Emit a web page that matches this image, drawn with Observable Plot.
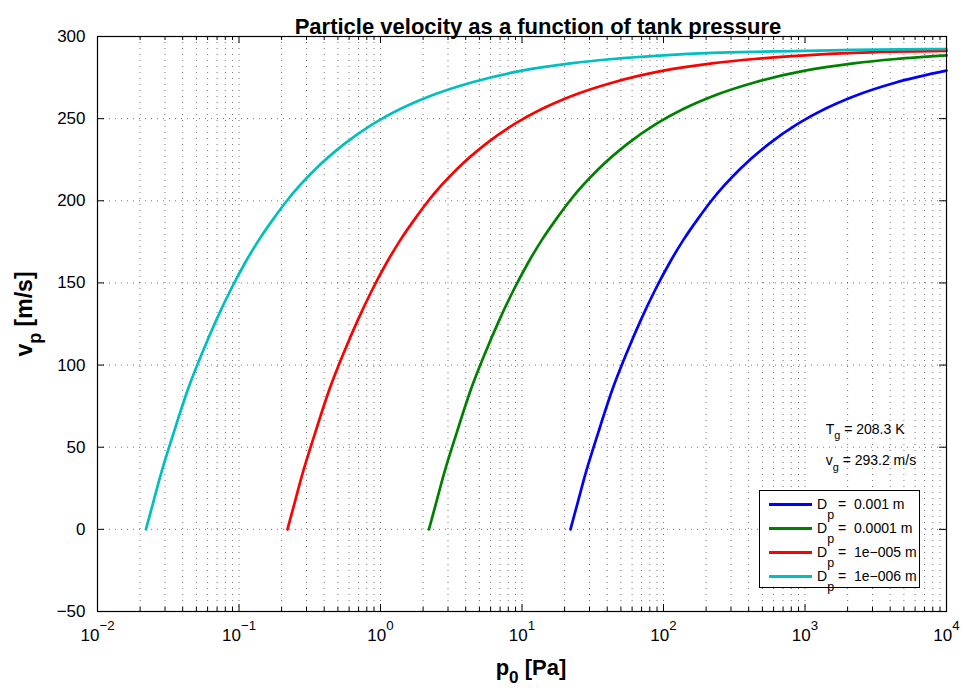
<!DOCTYPE html>
<html>
<head>
<meta charset="utf-8">
<script src="https://cdn.jsdelivr.net/npm/d3@7"></script>
<script src="https://cdn.jsdelivr.net/npm/@observablehq/plot@0.6"></script>
<style>
  html, body { margin: 0; padding: 0; background: #fff; }
  #wrap { position: relative; width: 966px; height: 695px; font-family: "Liberation Sans", Arial, Helvetica, sans-serif; }
  #legend { position: absolute; left: 759px; top: 490px; width: 161px; height: 98px; box-sizing: border-box;
            border: 1.3px solid #000; background: #fff; padding-top: 1px; }
  .row { display: flex; align-items: center; height: 24px; }
  .sw { width: 43px; height: 3px; margin-left: 9px; margin-right: 5px; }
  .lt { font-size: 14px; white-space: pre; color: #000; }
  .lt .sub { font-size: 12.5px; position: relative; top: 10px; }
</style>
</head>
<body>
<div id="wrap">
  <div id="chart"></div>
  <div id="legend"></div>
</div>
<script>
// ---- data ----
const title = "Particle velocity as a function of tank pressure";
const xLabel = "p_{0} [Pa]";
const yLabel = "v_{p} [m/s]";
const seriesNames = ["0.001", "0.0001", "1e\u2212005", "1e\u2212006"];
const seriesColors = ["#0000ff", "#008000", "#ff0000", "#00bfbf"];

// particle velocity (m/s) at successive points along each curve
const vSamples = [0, 16, 32, 60, 86, 108, 128, 146, 162, 176.5, 189, 200.5, 219.5, 234.5, 246.5, 256, 263.5, 272, 279.2, 283.6, 286.3, 288.5, 290, 291.2, 291.8, 292.4];

// tank pressure (Pa) at those points, one list per particle diameter
const pBlue  = [22, 24.7, 27.7, 34.9, 43.9, 55.3, 69.6, 87.6, 110, 139, 175, 220, 349, 553, 876, 1390, 2200, 4390, 10000];
const pGreen = [2.2, 2.47, 2.77, 3.49, 4.39, 5.53, 6.96, 8.76, 11.0, 13.9, 17.5, 22, 34.9, 55.3, 87.6, 139, 220, 439, 1000, 2200, 4390, 10000];
const pRed   = [0.22, 0.247, 0.277, 0.349, 0.439, 0.553, 0.696, 0.876, 1.10, 1.39, 1.75, 2.2, 3.49, 5.53, 8.76, 13.9, 22, 43.9, 100, 220, 439, 1000, 2200, 10000];
const pCyan  = [0.022, 0.0247, 0.0277, 0.0349, 0.0439, 0.0553, 0.0696, 0.0876, 0.110, 0.139, 0.175, 0.22, 0.349, 0.553, 0.876, 1.39, 2.2, 4.39, 10, 22, 43.9, 100, 220, 1000, 2200, 10000];

const xMajorTicks = [1e-2, 1e-1, 1, 10, 100, 1000, 10000];
const xMinorTicks = [
  0.02,0.03,0.04,0.05,0.06,0.07,0.08,0.09,
  0.2,0.3,0.4,0.5,0.6,0.7,0.8,0.9,
  2,3,4,5,6,7,8,9,
  20,30,40,50,60,70,80,90,
  200,300,400,500,600,700,800,900,
  2000,3000,4000,5000,6000,7000,8000,9000
];
const yTicks = [-50, 0, 50, 100, 150, 200, 250, 300];

const annotations = [
  {p: 1400, v: 61, text: "T_{g} = 208.3 K"},
  {p: 1400, v: 41.6, text: "v_{g} = 293.2 m/s"}
];

// ---- build table ----
const pSets = [pBlue, pGreen, pRed, pCyan];
const rows = [];
pSets.forEach((ps, s) => ps.forEach((p, i) => rows.push({series: seriesNames[s], p, v: vSamples[i]})));

const W = 966, H = 695, mt = 36, mb = 84, ml = 97, mr = 20;
const innerW = W - ml - mr, innerH = H - mt - mb;
const tickStroke = {stroke: "#000", strokeWidth: 1};
const gridStyle = {stroke: "#000", strokeOpacity: 0.55, strokeDasharray: "1,5", strokeWidth: 1};

const chart = Plot.plot({
  width: W, height: H,
  marginTop: mt, marginBottom: mb, marginLeft: ml, marginRight: mr,
  style: {fontFamily: "'Liberation Sans', Arial, Helvetica, sans-serif", fontSize: "17px", color: "#000", background: "#fff", overflow: "visible"},
  x: {type: "log", domain: [1e-2, 1e4], axis: null, label: null},
  y: {domain: [-50, 300], axis: null, label: null},
  color: {domain: seriesNames, range: seriesColors},
  marks: [
    Plot.gridX(xMajorTicks.concat(xMinorTicks), gridStyle),
    Plot.gridY(yTicks, gridStyle),
    Plot.line(rows, {x: "p", y: "v", z: "series", stroke: "series", strokeWidth: 2.7, curve: "monotone-x"}),
    // inward ticks (MATLAB style)
    Plot.ruleX(xMajorTicks, {x: d => d, insetTop: innerH - 7, ...tickStroke}),
    Plot.ruleX(xMajorTicks, {x: d => d, insetBottom: innerH - 7, ...tickStroke}),
    Plot.ruleX(xMinorTicks, {x: d => d, insetTop: innerH - 4, ...tickStroke}),
    Plot.ruleX(xMinorTicks, {x: d => d, insetBottom: innerH - 4, ...tickStroke}),
    Plot.ruleY(yTicks, {y: d => d, insetRight: innerW - 7, ...tickStroke}),
    Plot.ruleY(yTicks, {y: d => d, insetLeft: innerW - 7, ...tickStroke}),
    Plot.frame({stroke: "#000", strokeWidth: 1.2}),
    Plot.axisX(xMajorTicks, {
      anchor: "bottom", tickSize: 0, tickPadding: 17, label: null, fontSize: 17,
      tickFormat: d => { const e = Math.round(Math.log10(d)); return "10^{" + (e < 0 ? "\u2212" + (-e) : e) + "}"; }
    }),
    Plot.axisY(yTicks, {
      anchor: "left", tickSize: 0, tickPadding: 12, label: null, fontSize: 17,
      tickFormat: d => d < 0 ? "\u2212" + (-d) : String(d)
    }),
    Plot.text([title], {text: d => d, frameAnchor: "top", textAnchor: "middle", dy: -18, dx: 16, fontWeight: "bold", fontSize: 22}),
    Plot.text([yLabel], {text: d => d, frameAnchor: "left", textAnchor: "middle", rotate: -90, dx: -73, dy: -10, fontWeight: "bold", fontSize: 23}),
    Plot.text([xLabel], {text: d => d, frameAnchor: "bottom", textAnchor: "middle", dy: 63, dx: 9, fontWeight: "bold", fontSize: 22}),
    Plot.text(annotations, {x: "p", y: "v", text: "text", textAnchor: "start", fontSize: 14})
  ]
});

// ---- turn ^{..} / _{..} markup into tspans ----
const NS = "http://www.w3.org/2000/svg";
function richify(el) {
  const s = el.textContent;
  if (!/[_^]\{/.test(s)) return;
  const fs = parseFloat(getComputedStyle(el).fontSize) || 16;
  const parts = [];
  const re = /([_^])\{([^}]*)\}/g;
  let last = 0, m;
  while ((m = re.exec(s))) {
    if (m.index > last) parts.push({t: s.slice(last, m.index)});
    parts.push({t: m[2], k: m[1]});
    last = re.lastIndex;
  }
  if (last < s.length) parts.push({t: s.slice(last)});
  while (el.firstChild) el.removeChild(el.firstChild);
  let shift = 0;
  for (const p of parts) {
    const ts = document.createElementNS(NS, "tspan");
    const target = p.k === "^" ? -0.65 * fs : p.k === "_" ? 0.4 * fs : 0;
    if (target - shift !== 0) ts.setAttribute("dy", (target - shift).toFixed(2));
    shift = target;
    if (p.k) ts.setAttribute("font-size", (0.78 * fs).toFixed(1));
    ts.textContent = p.t;
    el.appendChild(ts);
  }
}
document.getElementById("chart").appendChild(chart);
chart.querySelectorAll("text").forEach(richify);

// ---- legend ----
const legend = document.getElementById("legend");
seriesNames.forEach((name, i) => {
  const row = document.createElement("div");
  row.className = "row";
  const sw = document.createElement("div");
  sw.className = "sw";
  sw.style.background = seriesColors[i];
  const lt = document.createElement("span");
  lt.className = "lt";
  lt.innerHTML = 'D<span class="sub">p</span> =  ' + name + ' m';
  row.appendChild(sw);
  row.appendChild(lt);
  legend.appendChild(row);
});
</script>
</body>
</html>
